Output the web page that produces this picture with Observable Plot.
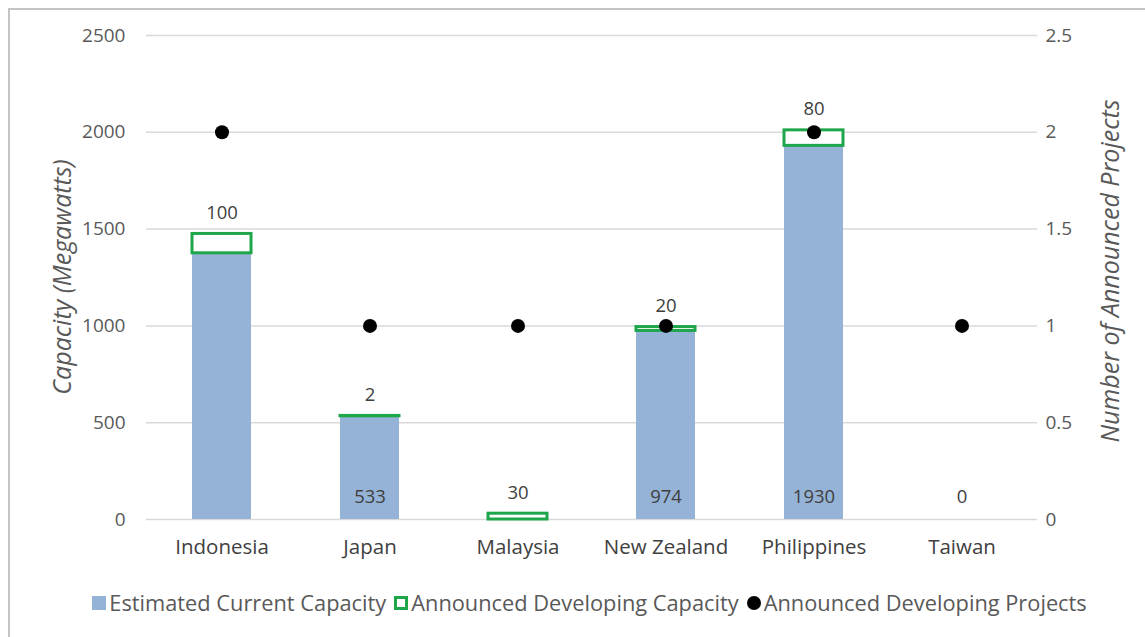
<!DOCTYPE html>
<html><head><meta charset="utf-8">
<script src="https://cdn.jsdelivr.net/npm/d3@7"></script>
<script src="https://cdn.jsdelivr.net/npm/@observablehq/plot@0.6"></script>
<style>
body{margin:0;background:#fff;font-family:"Open Sans",sans-serif;width:1145px;height:637px;overflow:hidden;position:relative;}
#frame{position:absolute;left:8px;top:8px;width:1150px;height:650px;border:2px solid #c4c4c4;box-sizing:border-box;}
#chart{position:absolute;left:0;top:0;}
.ytitle{position:absolute;font-style:italic;font-size:25px;color:#595959;white-space:nowrap;transform:translate(-50%,-50%) rotate(-90deg);}
#legend{position:absolute;top:588px;left:17px;width:1145px;display:flex;justify-content:center;align-items:center;font-size:21.8px;color:#595959;}
#legend .item{display:flex;align-items:center;margin:0 4px;}
#legend .sw{display:inline-block;width:14px;height:14px;margin-right:3px;box-sizing:border-box;}
</style></head>
<body>
<div id="frame"></div>
<div id="chart"></div>
<div class="ytitle" style="left:61px;top:277px;">Capacity (Megawatts)</div>
<div class="ytitle" style="left:1109px;top:271px;">Number of Announced Projects</div>
<div id="legend"></div>
<script>
const countries = ["Indonesia", "Japan", "Malaysia", "New Zealand", "Philippines", "Taiwan"];
const currentCapacity = [1375, 533, 0, 974, 1930, 0];
const developingCapacity = [100, 2, 30, 20, 80, 0];
const announcedProjects = [2, 1, 1, 1, 2, 1];
const currentLabels = ["", "533", "", "974", "1930", "0"];
const developingLabels = ["100", "2", "30", "20", "80", ""];
const leftTicks = [0, 500, 1000, 1500, 2000, 2500];
const rightTicks = [0, 0.5, 1, 1.5, 2, 2.5];
const seriesNames = ["Estimated Current Capacity", "Announced Developing Capacity", "Announced Developing Projects"];
const projectsPerCapacity = 1000; // right axis 2.5 aligns with left axis 2500

const blue = "#95b3d7", green = "#1ea64b";

const data = countries.map((c, i) => ({
  country: c,
  current: currentCapacity[i],
  dev: developingCapacity[i],
  top: currentCapacity[i] + developingCapacity[i],
  proj: announcedProjects[i],
  curLabel: currentLabels[i],
  devLabel: developingLabels[i]
}));

const chart = Plot.plot({
  width: 1145, height: 580,
  marginLeft: 146, marginRight: 108, marginTop: 35, marginBottom: 61,
  x: {domain: countries, paddingInner: 0.6, paddingOuter: 0.3, label: null},
  y: {domain: [0, 2500], label: null},
  style: {fontFamily: "Open Sans", fontSize: "19px", color: "#595959", background: "transparent"},
  marks: [
    Plot.gridY(leftTicks, {stroke: "#d9d9d9", strokeOpacity: 1, strokeWidth: 1.5}),
    Plot.axisY(leftTicks, {anchor: "left", tickSize: 0, tickPadding: 21, label: null, fontSize: 19,
      tickFormat: d => String(d)}),
    Plot.axisY(leftTicks, {anchor: "right", tickSize: 0, tickPadding: 8, label: null, fontSize: 19,
      tickFormat: d => String(rightTicks[leftTicks.indexOf(d)])}),
    Plot.axisX({tickSize: 0, tickPadding: 20, label: null, fontSize: 20.5, color: "#404040"}),
    Plot.barY(data, {x: "country", y: "current", fill: blue}),
    Plot.barY(data.filter(d => d.dev > 0), {x: "country", y1: "current", y2: "top", fill: "white", stroke: green, strokeWidth: 3}),
    Plot.text(data.filter(d => d.devLabel), {x: "country", y: "top", text: "devLabel", dy: -21, fontSize: 18.5, fill: "#404040"}),
    Plot.text(data.filter(d => d.curLabel), {x: "country", y: 0, text: "curLabel", dy: -22, fontSize: 18.5, fill: "#404040"}),
    Plot.dot(data, {x: "country", y: d => d.proj * projectsPerCapacity, r: 7, fill: "black", stroke: "none"})
  ]
});
document.getElementById("chart").append(chart);

const legend = document.getElementById("legend");
const swatches = [
  `<span class="sw" style="background:${blue}"></span>`,
  `<span class="sw" style="border:3px solid ${green};background:#fff"></span>`,
  `<span class="sw" style="background:#000;border-radius:50%"></span>`
];
seriesNames.forEach((n, i) => {
  const d = document.createElement("span");
  d.className = "item";
  d.innerHTML = swatches[i] + `<span>${n}</span>`;
  legend.append(d);
});
</script>
</body></html>
